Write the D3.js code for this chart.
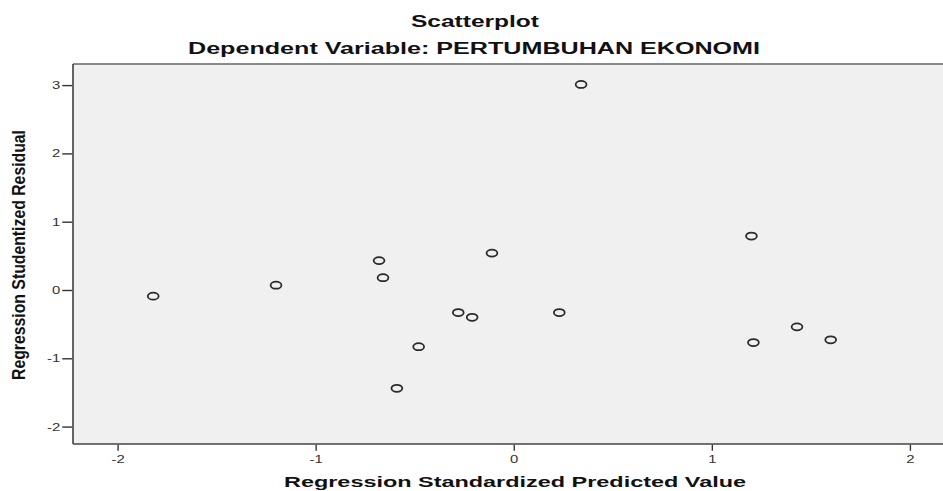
<!DOCTYPE html>
<html>
<head>
<meta charset="utf-8">
<script src="https://cdn.jsdelivr.net/npm/d3@7"></script>
<style>
  body { margin: 0; background: #fff; }
  text { font-family: 'Liberation Sans', Arial, sans-serif; }
</style>
</head>
<body>
<div class="canvas"></div>
<script>
// values
const predicted = [-1.82, -1.20, -0.68, -0.66, -0.48, -0.59, 0.34, -0.11, -0.28, -0.21, 0.23, 1.20, 1.43, 1.21, 1.60];
const residual  = [-0.09, 0.07, 0.43, 0.18, -0.83, -1.44, 3.01, 0.54, -0.33, -0.40, -0.33, 0.79, -0.54, -0.77, -0.73];
const xTicks = [-2, -1, 0, 1, 2];
const yTicks = [-2, -1, 0, 1, 2, 3];
const title = 'Scatterplot';
const subtitle = 'Dependent Variable: PERTUMBUHAN EKONOMI';
const xLabel = 'Regression Standardized Predicted Value';
const yLabel = 'Regression Studentized Residual';

const width = 943, height = 491;
const plot = {left: 73, right: 943, top: 64, bottom: 444};

const svg = d3.select('.canvas')
  .append('svg')
    .attr('width', width)
    .attr('height', height);

const x = d3.scaleLinear()
  .domain([-2.225, 2.167])
  .range([plot.left, plot.right]);

const y = d3.scaleLinear()
  .domain([-2.255, 3.309])
  .range([plot.bottom, plot.top]);

// the source picture is stretched sideways, so widen text to match
const stretch = (sel, k) => {
  sel.each(function() {
    const w = this.getComputedTextLength();
    d3.select(this)
      .attr('textLength', w * k)
      .attr('lengthAdjust', 'spacingAndGlyphs');
  });
};

// plot background
svg.append('rect')
  .attr('x', plot.left)
  .attr('y', plot.top)
  .attr('width', plot.right - plot.left)
  .attr('height', plot.bottom - plot.top)
  .attr('fill', '#f0f0f0');

// frame
svg.append('line')
  .attr('x1', plot.left).attr('x2', plot.right)
  .attr('y1', plot.top).attr('y2', plot.top)
  .attr('stroke', '#666').attr('stroke-width', 1.5);
svg.append('line')
  .attr('x1', plot.left).attr('x2', plot.left)
  .attr('y1', plot.top).attr('y2', plot.bottom)
  .attr('stroke', '#333').attr('stroke-width', 1.5);
svg.append('line')
  .attr('x1', plot.left).attr('x2', plot.right)
  .attr('y1', plot.bottom).attr('y2', plot.bottom)
  .attr('stroke', '#444').attr('stroke-width', 1.5);

// axes (plain hyphen for negatives, as in the source)
const fmt = d => String(d);

const yAxis = svg.append('g')
  .attr('transform', `translate(${plot.left - 0.75}, 0)`)
  .call(d3.axisLeft(y).tickValues(yTicks).tickSize(10).tickSizeOuter(0).tickPadding(2).tickFormat(fmt));

const xAxis = svg.append('g')
  .attr('transform', `translate(0, ${plot.bottom + 0.75})`)
  .call(d3.axisBottom(x).tickValues(xTicks).tickSize(6).tickSizeOuter(0).tickPadding(4).tickFormat(fmt));

[yAxis, xAxis].forEach(ax => {
  ax.select('.domain').remove();
  ax.selectAll('.tick line')
    .attr('stroke', '#333')
    .attr('stroke-width', 1.4);
  ax.selectAll('.tick text')
    .attr('fill', '#333')
    .attr('font-size', 11)
    .attr('font-family', "'Liberation Sans', Arial, sans-serif")
    .call(stretch, 1.35);
});

// points
svg.append('g')
  .selectAll('ellipse.point')
  .data(predicted.map((p, i) => ({p, r: residual[i]})))
  .enter()
  .append('ellipse')
    .attr('class', 'point')
    .attr('cx', d => x(d.p))
    .attr('cy', d => y(d.r))
    .attr('rx', 5.4)
    .attr('ry', 3.5)
    .attr('fill', 'none')
    .attr('stroke', '#2a2a2a')
    .attr('stroke-width', 1.8);

// titles
svg.append('text')
  .attr('x', 475)
  .attr('y', 27)
  .attr('text-anchor', 'middle')
  .attr('font-size', 16)
  .attr('font-weight', 'bold')
  .attr('fill', '#111')
  .attr('textLength', 128)
  .attr('lengthAdjust', 'spacingAndGlyphs')
  .text(title);

svg.append('text')
  .attr('x', 474)
  .attr('y', 54)
  .attr('text-anchor', 'middle')
  .attr('font-size', 16)
  .attr('font-weight', 'bold')
  .attr('fill', '#111')
  .attr('textLength', 572)
  .attr('lengthAdjust', 'spacingAndGlyphs')
  .text(subtitle);

// axis labels
svg.append('text')
  .attr('x', 515)
  .attr('y', 487)
  .attr('text-anchor', 'middle')
  .attr('font-size', 15)
  .attr('font-weight', 'bold')
  .attr('fill', '#111')
  .attr('textLength', 462)
  .attr('lengthAdjust', 'spacingAndGlyphs')
  .text(xLabel);

svg.append('g')
  .attr('transform', 'translate(25, 255) scale(1.3, 1)')
  .append('text')
    .attr('transform', 'rotate(-90)')
    .attr('text-anchor', 'middle')
    .attr('font-size', 14)
    .attr('font-weight', 'bold')
    .attr('fill', '#111')
    .attr('textLength', 250)
    .attr('lengthAdjust', 'spacingAndGlyphs')
    .text(yLabel);
</script>
</body>
</html>
